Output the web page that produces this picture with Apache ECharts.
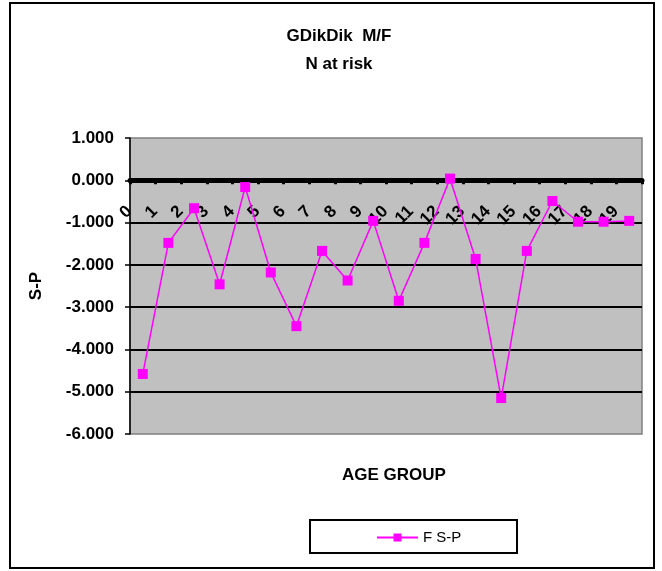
<!DOCTYPE html>
<html>
<head>
<meta charset="utf-8">
<script src="https://cdn.jsdelivr.net/npm/echarts@6/dist/echarts.min.js"></script>
<style>
html,body{margin:0;padding:0;background:#fff;}
#c{width:662px;height:571px;}
</style>
</head>
<body>
<div id="c"></div>
<script>
var categories = ['0','1','2','3','4','5','6','7','8','9','10','11','12','13','14','15','16','17','18','19'];
var fsp = [-4.58, -1.48, -0.66, -2.46, -0.16, -2.18, -3.45, -1.67, -2.37, -0.96, -2.85, -1.48, 0.04, -1.86, -5.15, -1.67, -0.49, -0.98, -0.98, -0.96];
var seriesName = 'F S-P';
var titleLine1 = 'GDikDik  M/F';
var titleLine2 = 'N at risk';
var xTitle = 'AGE GROUP';
var yTitle = 'S-P';
var yMin = -6, yMax = 1, yStep = 1;

var FONT = "'Liberation Sans', Arial, sans-serif";
var GRID_TOP = 138, GRID_BOTTOM = 137, H = 571;
// place the category axis on the zero value line (computed from the value scale)
var plotH = H - GRID_TOP - GRID_BOTTOM;
var zeroOffset = -plotH * (0 - yMin) / (yMax - yMin);

var chart = echarts.init(document.getElementById('c'), null, {renderer: 'canvas'});
chart.setOption({
  backgroundColor: '#ffffff',
  animation: false,
  textStyle: {fontFamily: FONT},
  title: [
    {text: titleLine1, left: 334, top: 23, textAlign: 'center',
     textStyle: {fontSize: 17, fontWeight: 'bold', color: '#000', fontFamily: FONT}},
    {text: titleLine2, left: 334, top: 51, textAlign: 'center',
     textStyle: {fontSize: 17, fontWeight: 'bold', color: '#000', fontFamily: FONT}},
    {text: xTitle, left: 389, top: 462, textAlign: 'center',
     textStyle: {fontSize: 17, fontWeight: 'bold', color: '#000', fontFamily: FONT}}
  ],
  grid: {left: 130, right: 20, top: GRID_TOP, bottom: GRID_BOTTOM, show: true,
         backgroundColor: '#C0C0C0', borderColor: '#808080', borderWidth: 1.5},
  legend: {
    data: [seriesName], left: 376, top: 530, padding: 0,
    itemWidth: 41, itemHeight: 10,
    textStyle: {fontSize: 15, color: '#000', fontFamily: FONT}
  },
  xAxis: {
    type: 'category', data: categories, boundaryGap: true,
    position: 'bottom', offset: zeroOffset,
    axisLine: {onZero: false, lineStyle: {color: '#000', width: 5}},
    axisTick: {show: true, length: 4, lineStyle: {color: '#000', width: 3}},
    axisLabel: {interval: 0, rotate: 45, margin: 15, padding: [0, 19, 0, 0],
                fontSize: 17, fontWeight: 'bold', color: '#000', fontFamily: FONT},
    splitLine: {show: false}
  },
  yAxis: {
    type: 'value', min: yMin, max: yMax, interval: yStep,
    name: yTitle, nameLocation: 'middle', nameRotate: 90, nameGap: 85,
    nameTextStyle: {fontSize: 17, fontWeight: 'bold', color: '#000', fontFamily: FONT},
    axisLine: {show: true, onZero: false, lineStyle: {color: '#000', width: 1.5}},
    axisTick: {show: true, length: 5, lineStyle: {color: '#000', width: 1.5}},
    axisLabel: {margin: 16, fontSize: 17, fontWeight: 'bold', color: '#000', fontFamily: FONT,
                formatter: function (v) { return v.toFixed(3); }},
    splitLine: {show: true, showMinLine: false, showMaxLine: false, lineStyle: {color: '#000', width: 2}}
  },
  series: [{
    name: seriesName, type: 'line', data: fsp,
    symbol: 'rect', symbolSize: 10,
    itemStyle: {color: '#FF00FF'},
    lineStyle: {color: '#FF00FF', width: 1.5}
  }],
  graphic: [
    {type: 'rect', shape: {x: 10, y: 3, width: 644, height: 565}, silent: true,
     style: {fill: 'none', stroke: '#000', lineWidth: 2}},
    {type: 'rect', shape: {x: 310, y: 520, width: 207, height: 33}, silent: true,
     style: {fill: 'none', stroke: '#000', lineWidth: 2}}
  ]
});
</script>
</body>
</html>
